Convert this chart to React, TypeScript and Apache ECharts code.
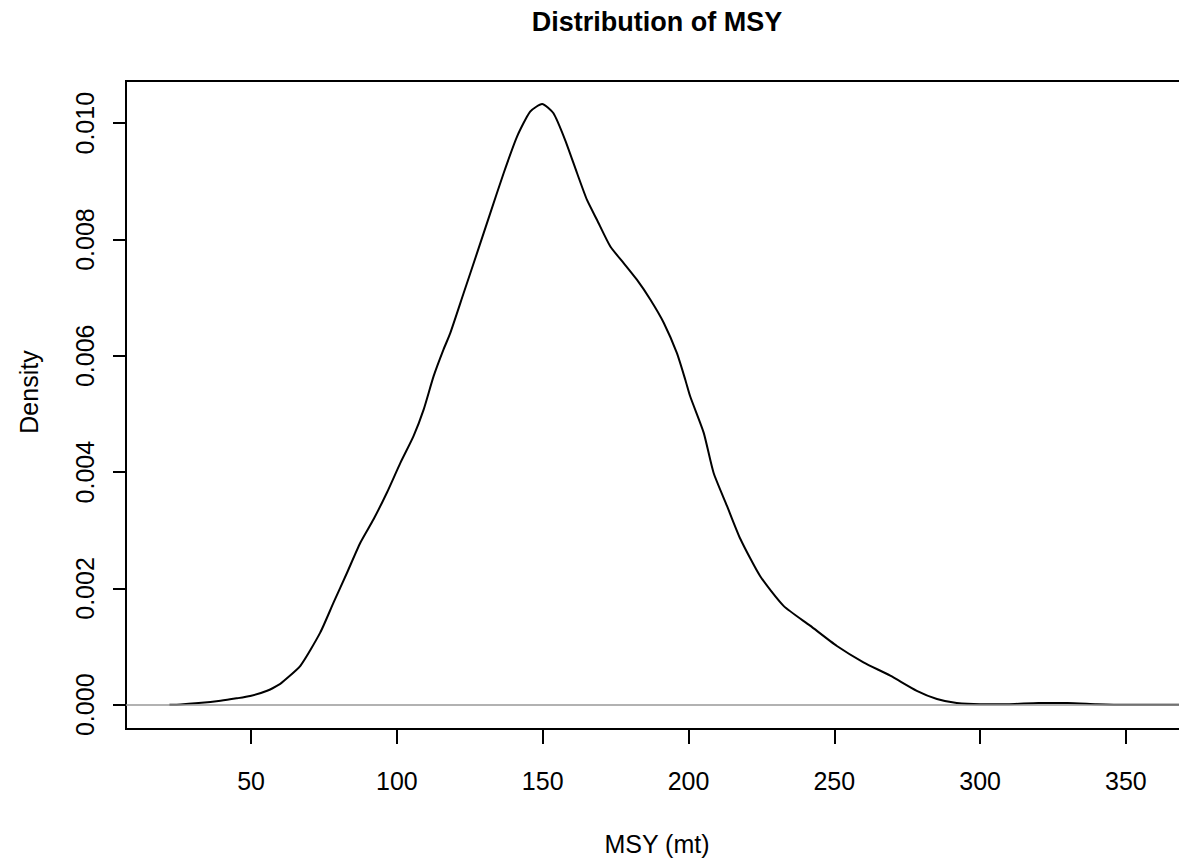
import React, { useEffect, useRef } from "react";
import * as echarts from "echarts";

const TITLE = "Distribution of MSY";
const X_NAME = "MSY (mt)";
const Y_NAME = "Density";

const msyValues = [
  22, 25.8, 32, 39.5, 45, 49.7, 55.5, 60.0, 61.2, 66.9, 73.7, 78.3, 82.9, 87.5,
  92.0, 96.6, 101.2, 105.7, 109.2, 112.6, 116.0, 118.3, 122.9, 127.5, 132.0,
  136.6, 141.2, 145.7, 149.8, 153.7, 157.7, 161.8, 165.2, 168.6, 173.2, 177.7,
  182.3, 186.9, 191.5, 196.0, 198.9, 200.6, 205.2, 208.6, 213.2, 217.8, 224.6,
  232.6, 241.7, 250.9, 260.0, 269.2, 278.3, 285.2, 292.0, 300, 310, 320, 330,
  340, 350, 360, 369,
];

const densityValues = [
  0, 0.000005, 0.00003, 0.00007, 0.00011, 0.00015, 0.00024, 0.00036, 0.00041,
  0.00067, 0.00124, 0.00176, 0.00227, 0.00279, 0.00319, 0.00365, 0.00416,
  0.00462, 0.00508, 0.00565, 0.00611, 0.00639, 0.00708, 0.00777, 0.00845,
  0.00914, 0.00977, 0.0102, 0.01033, 0.01017, 0.00971, 0.00914, 0.00868,
  0.00834, 0.00788, 0.0076, 0.00731, 0.00697, 0.00657, 0.00605, 0.00559,
  0.0053, 0.00468, 0.00399, 0.00342, 0.00285, 0.00221, 0.0017, 0.00136,
  0.00101, 0.00073, 0.0005, 0.00024, 0.0001, 0.00003, 0.00001, 0.00001,
  0.00003, 0.00003, 0.00001, 0, 0, 0,
];

const xTicks = [50, 100, 150, 200, 250, 300, 350];
const yTicks = [0, 0.002, 0.004, 0.006, 0.008, 0.01];

const FONT = "'Liberation Sans', Arial, Helvetica, sans-serif";

export default function App() {
  const ref = useRef<HTMLDivElement>(null);

  useEffect(() => {
    if (!ref.current) return;
    const chart = echarts.init(ref.current, null, { renderer: "svg" });
    const data = msyValues.map((x, i) => [x, densityValues[i]]);
    chart.setOption({
      animation: false,
      backgroundColor: "#ffffff",
      textStyle: { fontFamily: FONT },
      grid: {
        left: 126,
        top: 81,
        bottom: 131,
        right: 12,
        show: true,
        borderColor: "#000",
        borderWidth: 2,
        backgroundColor: "transparent",
      },
      graphic: [
        {
          type: "text",
          x: 657,
          y: 8,
          style: {
            text: TITLE,
            font: `bold 27px ${FONT}`,
            fill: "#000",
            align: "center",
            verticalAlign: "top",
          },
        },
        {
          type: "text",
          x: 29,
          y: 392,
          rotation: Math.PI / 2,
          style: {
            text: Y_NAME,
            font: `25px ${FONT}`,
            fill: "#000",
            align: "center",
            verticalAlign: "middle",
          },
        },
      ],
      xAxis: {
        type: "value",
        min: 7.1,
        max: 371.3,
        name: X_NAME,
        nameLocation: "middle",
        nameGap: 102,
        nameTextStyle: { fontSize: 25, color: "#000", fontFamily: FONT },
        axisLine: { show: false, onZero: false },
        splitLine: { show: false },
        axisTick: {
          show: true,
          length: 15,
          lineStyle: { color: "#000", width: 2 },
          customValues: xTicks,
        },
        axisLabel: {
          fontSize: 25,
          color: "#000",
          margin: 39,
          fontFamily: FONT,
          customValues: xTicks,
        },
      },
      yAxis: {
        type: "value",
        min: -0.000417,
        max: 0.010726,
        axisLine: { show: false, onZero: false },
        splitLine: { show: false },
        axisTick: {
          show: true,
          length: 13,
          lineStyle: { color: "#000", width: 2 },
          customValues: yTicks,
        },
        axisLabel: {
          fontSize: 25,
          color: "#000",
          rotate: 90,
          margin: 41,
          align: "center",
          verticalAlign: "middle",
          fontFamily: FONT,
          customValues: yTicks,
          formatter: (v: number) => v.toFixed(3),
        },
      },
      series: [
        {
          type: "line",
          data,
          showSymbol: false,
          smooth: 0.2,
          lineStyle: { color: "#000", width: 2 },
          markLine: {
            silent: true,
            symbol: "none",
            label: { show: false },
            lineStyle: { color: "#999", type: "solid", width: 1.5 },
            data: [{ yAxis: 0 }],
          },
        },
      ],
    });
    return () => chart.dispose();
  }, []);

  return (
    <div
      style={{
        position: "fixed",
        left: 0,
        top: 0,
        width: 1179,
        height: 861,
        overflow: "hidden",
        background: "#fff",
      }}
    >
      <div ref={ref} style={{ width: 1200, height: 861 }} />
    </div>
  );
}
